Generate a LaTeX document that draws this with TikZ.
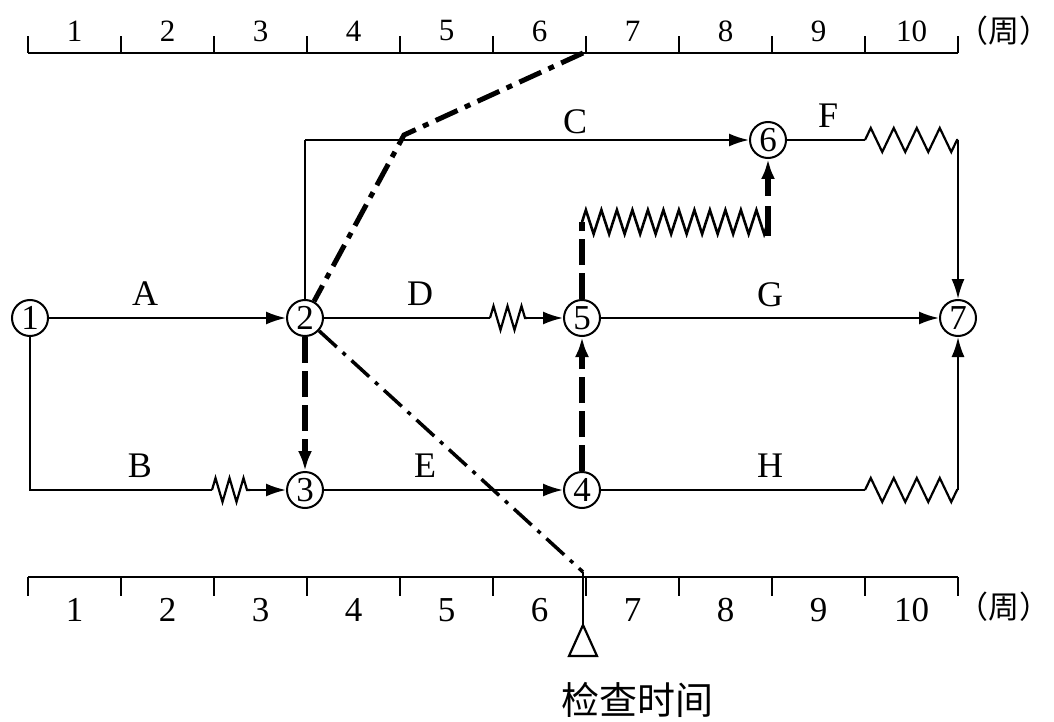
\documentclass[tikz,border=0pt]{standalone}
\usepackage{fontspec}
\setmainfont{Liberation Serif}
\newfontfamily\cjk{Noto Sans CJK SC}
\usetikzlibrary{arrows.meta,decorations.pathmorphing}
\begin{document}
\begin{tikzpicture}[x=1pt,y=-1pt,
  txt/.style={font=\fontsize{36}{40}\selectfont,inner sep=0pt},
  topnum/.style={font=\fontsize{31}{34}\selectfont,inner sep=0pt},
  botnum/.style={font=\fontsize{35}{38}\selectfont,inner sep=0pt},
  ev/.style={circle,draw,line width=2pt,minimum size=36pt,inner sep=0pt,font=\fontsize{35}{36}\selectfont},
  ln/.style={line width=2.2pt},
  arr/.style={ln,-{Latex[length=20pt,width=13pt]}},
  wavy/.style={ln,decorate,decoration={zigzag,segment length=#1,amplitude=12pt}},
  dum/.style={line width=5.5pt,dash pattern=on 26pt off 8pt,-{Latex[length=20pt,width=14pt]}},
  chk/.style={line width=5pt,dash pattern=on 24pt off 8pt on 6pt off 8pt},
  chkb/.style={line width=3.5pt,dash pattern=on 24pt off 8pt on 4pt off 8pt},
  wk/.style={inner sep=0pt,font=\fontsize{31}{34}\selectfont\cjk}]
\useasboundingbox (0,0) rectangle (1054,722);
% top scale
\draw[ln] (28,53) -- (958,53);
\foreach \i in {0,...,10} \draw[ln] (28+93*\i,53) -- (28+93*\i,36);
\foreach \i in {1,...,10} \node[topnum] at (28+93*\i-46.5,31) {\i};
\node[wk] (wkt) at (1004,31) {（周）};
% bottom scale
\draw[ln] (28,577) -- (958,577);
\foreach \i in {0,...,10} \draw[ln] (28+93*\i,577) -- (28+93*\i,596);
\foreach \i in {1,...,10} \node[botnum] at (28+93*\i-46.5,610) {\i};
\node[wk] (wkb) at (1004,607) {（周）};
% events
\node[ev] (n1) at (30,318) {1};
\node[ev] (n2) at (305,318) {2};
\node[ev] (n3) at (305,490) {3};
\node[ev] (n4) at (582,490) {4};
\node[ev] (n5) at (582,318) {5};
\node[ev] (n6) at (768,140) {6};
\node[ev] (n7) at (958,318) {7};
% coordinates
\coordinate (b1) at (30,490);
\coordinate (bw1) at (212,490);
\coordinate (bw2) at (250,490);
\coordinate (c1) at (305,140);
\coordinate (dw1) at (490,318);
\coordinate (dw2) at (527,318);
\coordinate (fw1) at (865,140);
\coordinate (fw2) at (958,140);
\coordinate (hw1) at (865,490);
\coordinate (hw2) at (958,490);
\coordinate (d1) at (582,222);
\coordinate (d2) at (768,222);
\coordinate (d3) at (768,236);
% activities
\draw[arr] (n1) -- (n2);
\node[txt] (la) at (145,294) {A};
\draw[ln] (n1) -- (b1) -- (bw1);
\draw[wavy=14pt] (bw1) -- (bw2);
\draw[arr] (bw2) -- (n3);
\node[txt] (lb) at (140,466) {B};
\draw[ln] (n2) -- (c1);
\draw[arr] (c1) -- (n6);
\node[txt] (lc) at (575,122) {C};
\draw[ln] (n2) -- (dw1);
\draw[wavy=14pt] (dw1) -- (dw2);
\draw[arr] (dw2) -- (n5);
\node[txt] (ld) at (420,294) {D};
\draw[arr] (n3) -- (n4);
\node[txt] (le) at (425,466) {E};
\draw[ln] (n6) -- (fw1);
\draw[wavy=23pt] (fw1) -- (fw2);
\draw[arr] (fw2) -- (n7);
\node[txt] (lf) at (828,116) {F};
\draw[arr] (n5) -- (n7);
\node[txt] (lg) at (770,295) {G};
\draw[ln] (n4) -- (hw1);
\draw[wavy=23pt] (hw1) -- (hw2);
\draw[arr] (hw2) -- (n7);
\node[txt] (lh) at (770,466) {H};
% dummies
\draw[dum] (n2) -- (n3);
\draw[dum] (n4) -- (n5);
\draw[line width=5.5pt,dash pattern=on 26pt off 8pt] (n5) -- (d1);
\draw[wavy=15.5pt,line width=2.6pt] (d1) -- (d2);
\draw[dum,dash pattern=on 30pt off 10pt] (d3) -- (n6);
% check line
\coordinate (t6) at (583,53);
\coordinate (cc) at (404,135);
\coordinate (b6) at (583,572);
\coordinate (ta) at (583,625);
\coordinate (tl) at (569,656);
\coordinate (tr) at (597,656);
\draw[chk] (t6) -- (cc) -- (n2);
\draw[chkb] (n2) -- (b6);
\draw[ln] (b6) -- (ta);
\draw[ln,line join=miter] (ta) -- (tl) -- (tr) -- cycle;
\node[inner sep=0pt,font=\fontsize{38}{40}\selectfont\cjk] (ct) at (637,700) {检查时间};
\end{tikzpicture}
\end{document}
